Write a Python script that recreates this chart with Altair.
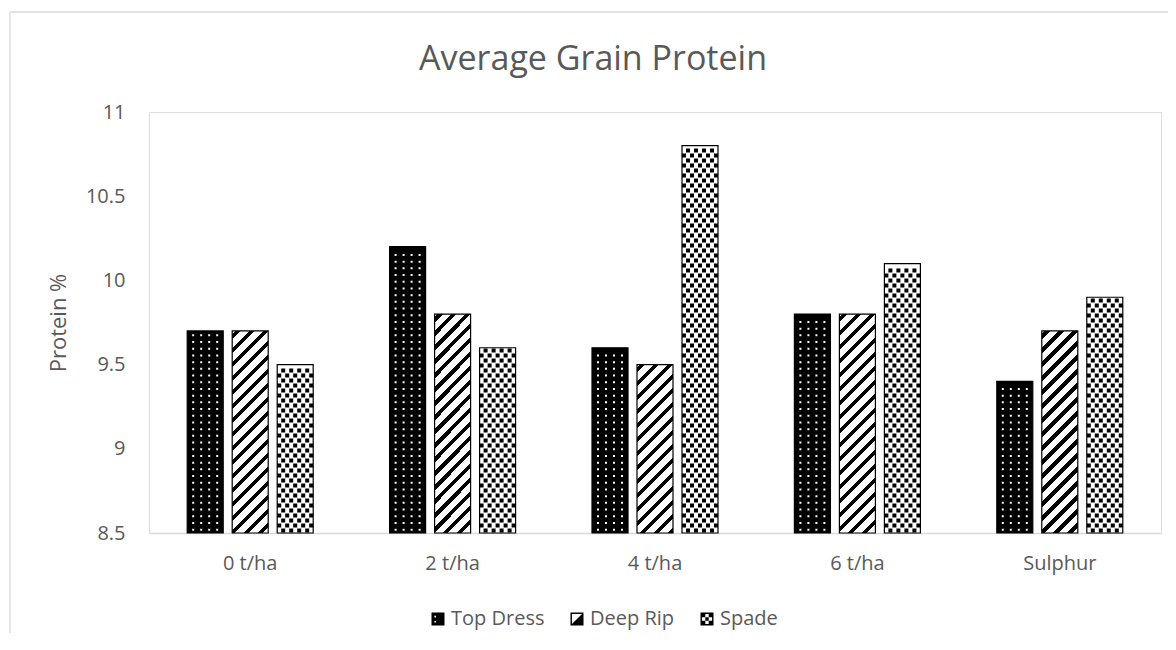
import altair as alt

# ---- data ----
categories = ["0 t/ha", "2 t/ha", "4 t/ha", "6 t/ha", "Sulphur"]
series = ["Top Dress", "Deep Rip", "Spade"]
top_dress = [9.7, 10.2, 9.6, 9.8, 9.4]
deep_rip = [9.7, 9.8, 9.5, 9.8, 9.7]
spade = [9.5, 9.6, 10.8, 10.1, 9.9]
y_ticks = [8.5, 9, 9.5, 10, 10.5, 11]

# ---- layout / style constants ----
Y_MIN, Y_MAX = 8.5, 11
PLOT_W, PLOT_H = 1012, 421
PX = PLOT_H / (Y_MAX - Y_MIN)           # pixels per data unit
BAR_W = 36.0                            # resulting bar width from band paddings
FONT = "Open Sans"
GREY = "#595959"
LINE = "#d9d9d9"


def stripe_gradient(v, period=14.0, frac=0.38, phase=3.0):
    """Diagonal '/' stripes as a hard-stop linear gradient for one bar."""
    w = BAR_W
    h = (v - Y_MIN) * PX
    denom = w * w + h * h
    smax = w + h
    stops = [{"offset": 0, "color": "#ffffff"}]
    n = -1
    while True:
        a = n * period + phase
        b = a + frac * period
        if a > smax:
            break
        if b > 0:
            ta = max(0.0, a * w / denom)
            tb = min(1.0, b * w / denom)
            stops += [
                {"offset": round(ta, 6), "color": "#ffffff"},
                {"offset": round(ta, 6), "color": "#000000"},
                {"offset": round(tb, 6), "color": "#000000"},
                {"offset": round(tb, 6), "color": "#ffffff"},
            ]
        n += 1
    stops.append({"offset": 1, "color": "#ffffff"})
    return {"gradient": "linear", "x1": 0, "y1": 0, "x2": 1, "y2": round(h / w, 5), "stops": stops}


def row_path(centers, side):
    """A row of small squares as one symbol path (size=4 -> 1 unit = 1 px)."""
    h = side / 2
    return " ".join(f"M{c - h},{-h}h{side}v{side}h{-side}Z" for c in centers)


records = []
for i, cat in enumerate(categories):
    for name, vals in zip(series, [top_dress, deep_rip, spade]):
        v = vals[i]
        if name == "Top Dress":
            fill = "#000000"
        elif name == "Deep Rip":
            fill = stripe_gradient(v)
        else:
            fill = "#ffffff"
        records.append({"category": cat, "series": name, "value": v, "fill": fill})

data = alt.Data(values=records)

x_enc = alt.X(
    "category:N",
    sort=categories,
    scale=alt.Scale(domain=categories, paddingInner=0.3775, paddingOuter=0.18875),
    axis=alt.Axis(
        title=None, labelAngle=0, ticks=False, grid=False,
        domainColor=LINE, domainWidth=1.3,
        labelFont=FONT, labelFontSize=20, labelColor=GREY, labelPadding=20,
    ),
)
xo_enc = alt.XOffset(
    "series:N", sort=series,
    scale=alt.Scale(domain=series, paddingInner=0.2, paddingOuter=0),
)


def y_of(field):
    return alt.Y(
        f"{field}:Q",
        scale=alt.Scale(domain=[Y_MIN, Y_MAX], zero=False, nice=False),
        axis=alt.Axis(
            values=y_ticks, format=".1~f", grid=False, domain=False, ticks=False,
            labelFont=FONT, labelFontSize=20, labelColor=GREY, labelPadding=24,
            title="Protein %", titleFont=FONT, titleFontSize=22, titleFontWeight="normal",
            titleColor=GREY, titleAngle=270, titleX=-84, titleY=PLOT_H / 2,
            titleAlign="center", titleBaseline="alphabetic",
        ),
    )


# legend swatches drawn as custom symbol paths (unit square -1..1)
RING = "M-1,-1H1V1H-1Z M-0.78,-0.78V0.78H0.78V-0.78Z "
legend_shapes = [
    "M-1,-1H1V1H-1Z M-0.55,-0.5V-0.25H-0.3V-0.5Z M-0.55,0.3V0.55H-0.3V0.3Z",
    RING + "M0.78,-0.78L0.78,0.78L-0.78,0.78Z",
    RING + "M-0.78,-0.78h0.52v0.52h-0.52Z M0.26,-0.78h0.52v0.52h-0.52Z "
    "M-0.26,-0.26h0.52v0.52h-0.52Z M-0.78,0.26h0.52v0.52h-0.52Z M0.26,0.26h0.52v0.52h-0.52Z",
]

# hidden key layer (sits behind the bars) that carries the legend
key = (
    alt.Chart(data)
    .transform_calculate(mid=f"(datum.value + {Y_MIN}) / 2")
    .mark_point(filled=True, size=20, color="#000000", opacity=1)
    .encode(
        x=x_enc,
        xOffset=xo_enc,
        y=y_of("mid"),
        shape=alt.Shape(
            "series:N",
            sort=series,
            scale=alt.Scale(domain=series, range=legend_shapes),
            legend=alt.Legend(
                title=None, orient="none", legendX=279, legendY=497, direction="horizontal",
                symbolSize=169, symbolFillColor="#000000", symbolStrokeWidth=0,
                symbolOpacity=1,
                labelFont=FONT, labelFontSize=20, labelColor=GREY, labelOffset=3,
                columnPadding=22, padding=0,
            ),
        ),
    )
)

bars = alt.Chart(data).mark_bar(strokeWidth=1.2, stroke="#000000").encode(
    x=x_enc,
    xOffset=xo_enc,
    y=y_of("value"),
    y2=alt.datum(Y_MIN),
    fill=alt.Fill("fill:N", scale=None, legend=None),
)

layers = [key, bars]

# Top Dress: rows of small white dots
TD_STEP = 6.7
layers.append(
    alt.Chart(data)
    .transform_filter(alt.datum.series == "Top Dress")
    .transform_calculate(k=f"sequence(0, floor((datum.value - {Y_MIN}) * {PX} / {TD_STEP}))")
    .transform_flatten(["k"])
    .transform_calculate(yy=f"{Y_MIN} + (datum.k + 0.5) * {TD_STEP} / {PX}")
    .mark_point(shape=row_path([-12, -4, 4, 12], 2), size=4, filled=True,
                fill="#ffffff", strokeWidth=0, opacity=1)
    .encode(x=x_enc, xOffset=xo_enc, y=y_of("yy"))
)

# Spade: staggered rows of black confetti squares
SP_STEP = 5.0
for parity, centers in [(0, [-12, -4, 4, 12]), (1, [-16, -8, 0, 8, 16])]:
    layers.append(
        alt.Chart(data)
        .transform_filter(alt.datum.series == "Spade")
        .transform_calculate(k=f"sequence(0, floor((datum.value - {Y_MIN}) * {PX} / {SP_STEP}))")
        .transform_flatten(["k"])
        .transform_filter(f"datum.k % 2 == {parity}")
        .transform_calculate(yy=f"{Y_MIN} + (datum.k + 0.5) * {SP_STEP} / {PX}")
        .mark_point(shape=row_path(centers, 4.0), size=4, filled=True,
                    fill="#000000", strokeWidth=0, opacity=1)
        .encode(x=x_enc, xOffset=xo_enc, y=y_of("yy"))
    )

# chart-area frame (left and top edges visible in the reference)
frame = alt.Chart(alt.Data(values=[{"f": 0}])).mark_rule(color=LINE, strokeWidth=1.3)
layers.append(frame.encode(x=alt.value(-139), y=alt.value(-100), y2=alt.value(560)))
layers.append(frame.encode(x=alt.value(-139), x2=alt.value(1030), y=alt.value(-100)))

chart = (
    alt.layer(*layers)
    .properties(
        width=PLOT_W,
        height=PLOT_H,
        autosize=alt.AutoSizeParams(type="none"),
        padding={"left": 141, "top": 104, "right": 7, "bottom": 100},
        title=alt.Title(
            "Average Grain Protein", font=FONT, fontSize=34, fontWeight="normal",
            color=GREY, anchor="middle", offset=0, dx=-62, dy=93, baseline="alphabetic",
        ),
        background="#ffffff",
    )
    .configure_view(strokeWidth=0)
    .configure(font=FONT)
)

chart.save("out.html", embed_options={"renderer": "svg", "actions": False})
